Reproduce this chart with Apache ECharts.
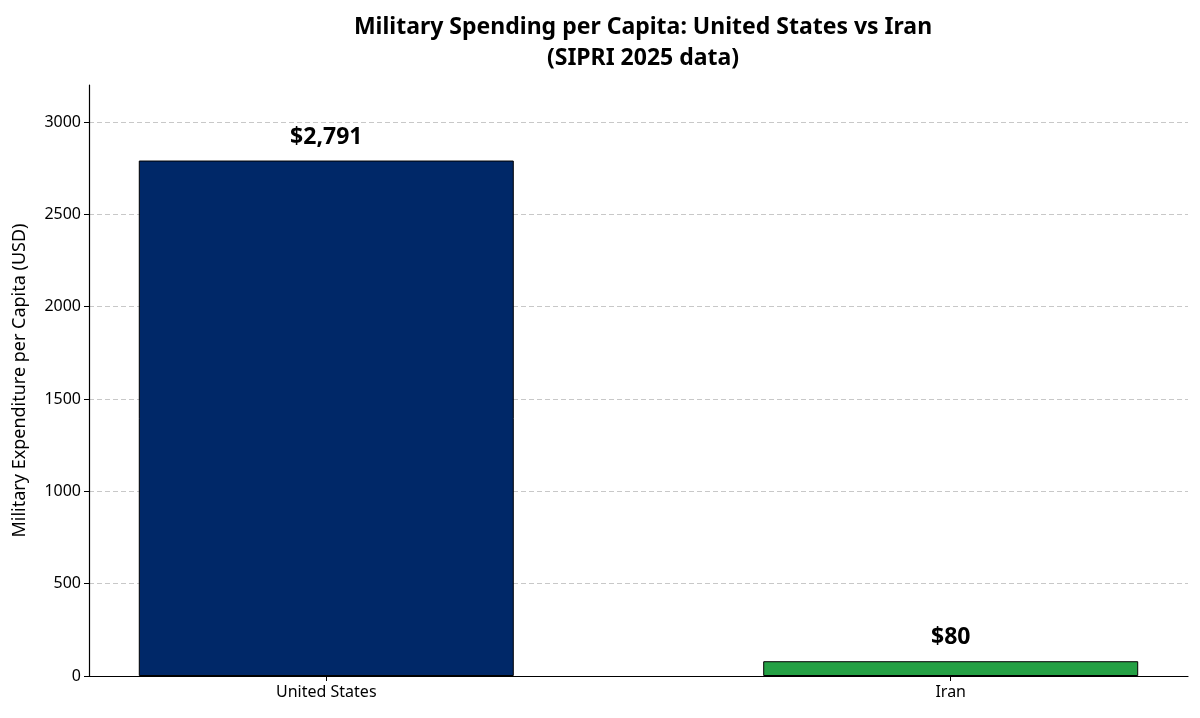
<!DOCTYPE html>
<html>
<head>
    <meta charset="utf-8">
    <title>Military Spending per Capita</title>
    <script src="https://cdn.jsdelivr.net/npm/echarts@6/dist/echarts.min.js"></script>
    <style>
        html, body { margin: 0; padding: 0; background: #fff; }
        #chart { width: 1200px; height: 718px; }
    </style>
</head>
<body>
<div id="chart"></div>
<script>
    // data
    var countries = ['United States', 'Iran'];
    var perCapita = [2791, 80];
    var barColors = ['#002868', '#24a044'];
    var yTicks = [0, 500, 1000, 1500, 2000, 2500, 3000];

    var FONT = '"Noto Sans", sans-serif';

    var chart = echarts.init(document.getElementById('chart'));
    chart.setOption({
        animation: false,
        // title is centred over the plot area, not the page
        title: {
            text: 'Military Spending per Capita: United States vs Iran\n(SIPRI 2025 data)',
            left: 638,
            textAlign: 'center',
            top: 7,
            textStyle: {
                fontFamily: FONT, fontSize: 23, fontWeight: 'bold',
                color: '#000', lineHeight: 31
            }
        },
        grid: { left: 89, right: 12, top: 85, bottom: 42 },
        xAxis: {
            type: 'value',
            min: -0.38,
            max: 1.38,
            splitLine: { show: false },
            axisLine: { show: true, onZero: false, lineStyle: { color: '#000', width: 1.2 } },
            axisTick: { show: true, customValues: [0, 1], length: 5, lineStyle: { color: '#000' } },
            axisLabel: {
                customValues: [0, 1],
                formatter: function (v) { return countries[Math.round(v)]; },
                fontFamily: FONT, fontSize: 16, color: '#000', margin: 8
            }
        },
        yAxis: {
            type: 'value',
            min: 0,
            max: 3200,
            name: 'Military Expenditure per Capita (USD)',
            nameLocation: 'middle',
            nameGap: 60,
            nameTextStyle: { fontFamily: FONT, fontSize: 18, color: '#000' },
            axisLine: { show: true, onZero: false, lineStyle: { color: '#000', width: 1.2 } },
            axisTick: { show: true, customValues: yTicks, length: 5, lineStyle: { color: '#000' } },
            axisLabel: {
                customValues: yTicks,
                formatter: function (v) { return String(v); },
                fontFamily: FONT, fontSize: 16, color: '#000', margin: 8
            },
            splitLine: { show: true, lineStyle: { color: '#c8c8c8', type: [5, 3], width: 1 } }
        },
        series: [{
            type: 'bar',
            barWidth: 375,
            data: perCapita.map(function (v, i) {
                return {
                    value: [i, v],
                    itemStyle: { color: barColors[i], borderColor: '#000', borderWidth: 1 }
                };
            }),
            label: {
                show: true,
                position: 'top',
                distance: 12,
                formatter: function (p) { return '$' + p.value[1].toLocaleString('en-US'); },
                fontFamily: FONT, fontSize: 23, fontWeight: 'bold', color: '#000'
            }
        }]
    });
</script>
</body>
</html>
